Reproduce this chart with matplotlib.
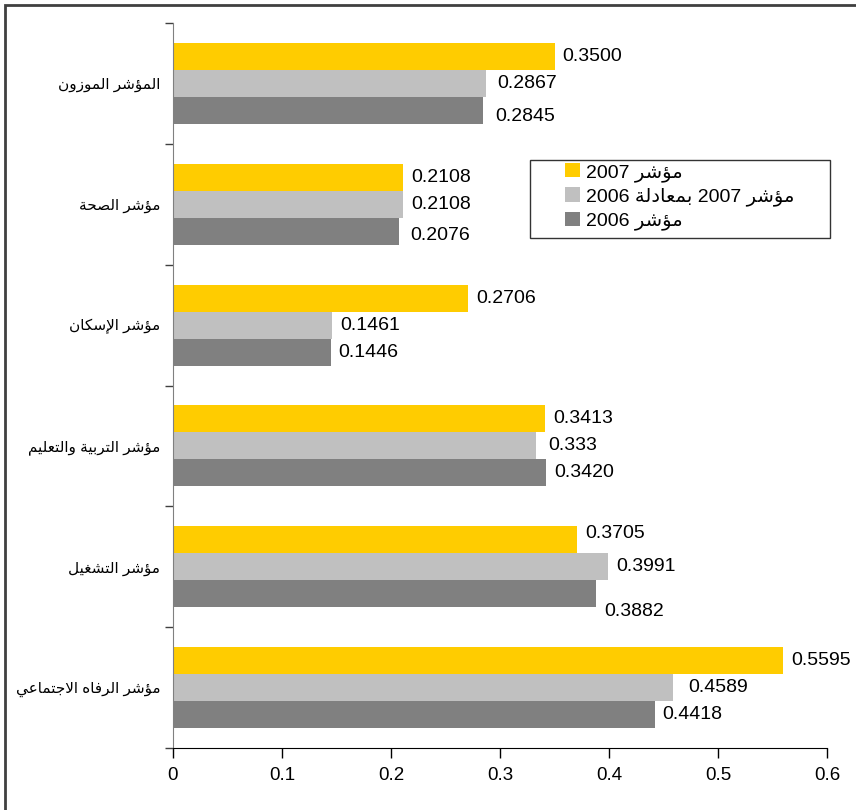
import numpy as np
import matplotlib
matplotlib.use("Agg")
import matplotlib.pyplot as plt
from matplotlib.patches import Rectangle

plt.rcParams['font.family'] = ['Liberation Sans', 'DejaVu Sans']

categories = ["المؤشر الموزون", "مؤشر الصحة", "مؤشر الإسكان",
              "مؤشر التربية والتعليم", "مؤشر التشغيل", "مؤشر الرفاه الاجتماعي"]
idx_2007 = [0.3500, 0.2108, 0.2706, 0.3413, 0.3705, 0.5595]
idx_2007_eq2006 = [0.2867, 0.2108, 0.1461, 0.333, 0.3991, 0.4589]
idx_2006 = [0.2845, 0.2076, 0.1446, 0.3420, 0.3882, 0.4418]
value_text = [["0.3500", "0.2108", "0.2706", "0.3413", "0.3705", "0.5595"],
              ["0.2867", "0.2108", "0.1461", "0.333", "0.3991", "0.4589"],
              ["0.2845", "0.2076", "0.1446", "0.3420", "0.3882", "0.4418"]]
series_names = ["مؤشر 2007", "مؤشر 2007 بمعادلة 2006", "مؤشر 2006"]
xticks = [0, 0.1, 0.2, 0.3, 0.4, 0.5, 0.6]
xtick_labels = ["0", "0.1", "0.2", "0.3", "0.4", "0.5", "0.6"]

# --- tiny arabic shaper (matplotlib has no complex text layout) ---
_letters = 'ءآأؤإئابةتثجحخدذرزسشصضطظعغفقكلمنهوىي'
_counts = [1, 2, 2, 2, 2, 4, 2, 4, 2, 4, 4, 4, 4, 4, 2, 2, 2, 2, 4, 4,
           4, 4, 4, 4, 4, 4, 4, 4, 4, 4, 4, 4, 4, 2, 2, 4]
FORMS = {}
code = 0xFE80
for ch, n in zip(_letters, _counts):
    FORMS[ch] = tuple(chr(code + k) for k in range(n))
    code += n
LAM_ALEF = {'آ': ('\uFEF5', '\uFEF6'), 'أ': ('\uFEF7', '\uFEF8'),
            'إ': ('\uFEF9', '\uFEFA'), 'ا': ('\uFEFB', '\uFEFC')}


def shape_word(word):
    toks = []
    i = 0
    while i < len(word):
        c = word[i]
        if c == 'ل' and i + 1 < len(word) and word[i + 1] in LAM_ALEF:
            toks.append(LAM_ALEF[word[i + 1]])
            i += 2
        else:
            toks.append(FORMS.get(c, (c,)))
            i += 1
    out = []
    for k, f in enumerate(toks):
        prev = k > 0 and len(toks[k - 1]) == 4
        nxt = len(f) == 4 and k + 1 < len(toks) and len(toks[k + 1]) > 1
        if prev and nxt:
            out.append(f[3])
        elif prev and len(f) > 1:
            out.append(f[1])
        elif nxt:
            out.append(f[2])
        else:
            out.append(f[0])
    return ''.join(reversed(out))


def ar(text):
    words = []
    for w in text.split(' '):
        if any(c in FORMS for c in w):
            words.append(shape_word(w))
        else:
            words.append(w)
    return ' '.join(reversed(words))


colors = ['#FFCC00', '#C0C0C0', '#808080']
W, H = 856, 810
fig = plt.figure(figsize=(W / 100, H / 100), dpi=100)
ax = fig.add_axes([173 / W, 1 - 748 / H, (827 - 173) / W, (748 - 23) / H])

y = np.arange(len(categories))
bh = 0.223
series = [idx_2007, idx_2007_eq2006, idx_2006]
bars = []
for s, (vals, col) in enumerate(zip(series, colors)):
    b = ax.barh(y + (s - 1) * bh, vals, height=bh, color=col, label=ar(series_names[s]))
    bars.append(b)

# small nudges (pixels) for labels that Excel placed off-centre
nudge = {(2, 0): (4, -6), (1, 0): (4, 0), (2, 1): (3, -4), (1, 3): (4, 0),
         (0, 4): (0, 6), (2, 4): (0, -18), (1, 5): (7, 0)}
for s, vals in enumerate(series):
    for i, v in enumerate(vals):
        dx, dy = nudge.get((s, i), (0, 0))
        ax.annotate(value_text[s][i], (v, y[i] + (s - 1) * bh),
                    xytext=(8 + dx, dy), textcoords='offset pixels',
                    va='center', ha='left', fontsize=14, color='black')

ax.set_xlim(0, 0.6)
ax.set_ylim(len(categories) - 0.5, -0.5)
ax.set_xticks(xticks)
ax.set_xticklabels(xtick_labels, fontsize=13.5)
ax.tick_params(axis='x', length=7, width=1, pad=7, direction='out')
ax.set_yticks(np.arange(len(categories) + 1) - 0.5)
ax.set_yticklabels([])
ax.set_yticks(y, minor=True)
ax.set_yticklabels([ar(c) for c in categories], minor=True, fontsize=11)
ax.tick_params(axis='y', which='major', length=6, width=1, color='#404040')
ax.tick_params(axis='y', which='minor', length=0, pad=9)
for sp in ['top', 'right']:
    ax.spines[sp].set_visible(False)
ax.spines['left'].set_color('#808080')
ax.spines['bottom'].set_color('black')

leg = fig.legend(handles=bars, loc='upper left', bbox_to_anchor=(565 / W, 1 - 163 / H),
                 frameon=False, fontsize=14, handlelength=0.75, handleheight=0.75,
                 handletextpad=0.35, labelspacing=0.3, borderpad=0, borderaxespad=0)
fig.add_artist(Rectangle((530 / W, 1 - 238 / H), 300 / W, 78 / H, transform=fig.transFigure,
                         fill=False, edgecolor='#333333', lw=1))

# outer frame of the picture
fig.add_artist(Rectangle((5 / W, -0.2), 1.5, 1 - 5 / H + 0.2, transform=fig.transFigure,
                         fill=False, edgecolor='#404040', lw=2, clip_on=False))

fig.savefig('out.png', dpi=100)
